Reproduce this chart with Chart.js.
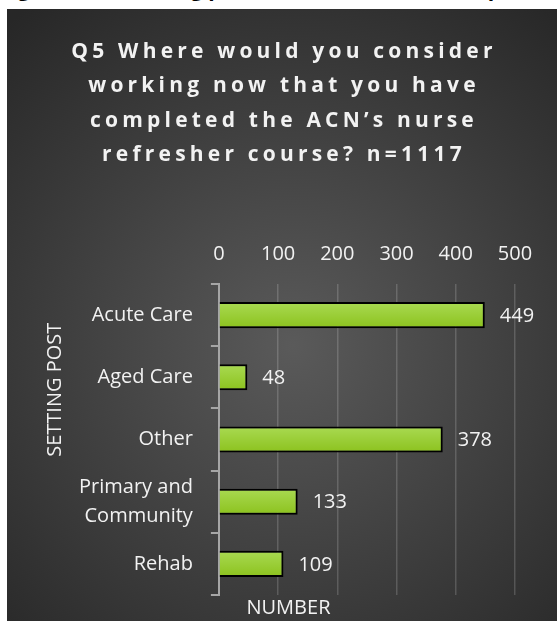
<!DOCTYPE html>
<html>
<head>
<meta charset="utf-8">
<script src="https://cdn.jsdelivr.net/npm/chart.js@4"></script>
<style>
  body { margin: 0; background: #fff; width: 557px; height: 621px; overflow: hidden; position: relative; }
  #caption { position: absolute; left: 0; top: -26px; font: bold 21px "Open Sans", sans-serif; color: #000; white-space: nowrap; }
  #box { position: absolute; left: 7px; top: 9px; width: 550px; height: 612px; }
</style>
</head>
<body>
<div id="caption">Figure 5, Q5 Setting post of nurse refresher responses (n=1117)</div>
<div id="box"><canvas id="chart"></canvas></div>
<script>
// Données du graphique
const titleLines = ['Q5 Where would you consider', 'working now that you have', 'completed the ACN\u2019s nurse', 'refresher course? n=1117'];
const categories = ['Acute Care', 'Aged Care', 'Other', ['Primary and', 'Community'], 'Rehab'];
const counts = [449, 48, 378, 133, 109];
const xTicks = [0, 100, 200, 300, 400, 500];
const yAxisTitle = 'SETTING POST';
const xAxisTitle = 'NUMBER';

const textColor = '#f2f2f2';
const font = '"Open Sans", sans-serif';

// Dégradé vertical pour chaque barre (clair en haut, plus foncé en bas)
function barFill(c) {
    const yScale = c.chart.scales.y;
    if (!yScale || yScale.top === undefined) return '#9acd32';
    const mid = yScale.getPixelForValue(c.dataIndex);
    const g = c.chart.ctx.createLinearGradient(0, mid - 13, 0, mid + 13);
    g.addColorStop(0, '#a9da52');
    g.addColorStop(1, '#8cc21e');
    return g;
}

// Fond dégradé + titre + étiquettes de valeurs
const decor = {
    id: 'decor',
    beforeDraw(chart) {
        const { ctx, width, height } = chart;
        const g = ctx.createRadialGradient(width * 0.52, height * 0.55, 0, width * 0.52, height * 0.55, 430);
        g.addColorStop(0, '#5a5a5a');
        g.addColorStop(1, '#272727');
        ctx.save();
        ctx.fillStyle = g;
        ctx.fillRect(0, 0, width, height);
        ctx.restore();
    },
    afterDraw(chart) {
        const { ctx, width } = chart;
        ctx.save();
        ctx.fillStyle = textColor;
        ctx.textAlign = 'center';
        ctx.textBaseline = 'middle';
        ctx.font = 'bold 21px ' + font;
        ctx.letterSpacing = '4.2px';
        titleLines.forEach((line, i) => ctx.fillText(line, width / 2 + 2, 43 + i * 34.3));
        ctx.letterSpacing = '0px';

        // étiquettes de valeurs
        ctx.font = '20px ' + font;
        ctx.textAlign = 'left';
        const meta = chart.getDatasetMeta(0);
        meta.data.forEach((bar, i) => ctx.fillText(String(counts[i]), bar.x + 15, bar.y + 1));

        // titres des axes
        const y = chart.scales.y;
        const x = chart.scales.x;
        ctx.textAlign = 'center';
        ctx.fillText(xAxisTitle, x.left + (x.right - x.left) * 0.235, chart.height - 13);
        ctx.translate(48, y.top + (y.bottom - y.top) * 0.34);
        ctx.rotate(-Math.PI / 2);
        ctx.fillText(yAxisTitle, 0, 0);
        ctx.restore();
    }
};

new Chart(document.getElementById('chart'), {
    type: 'bar',
    data: {
        labels: categories,
        datasets: [{
            data: counts,
            backgroundColor: barFill,
            borderColor: '#000',
            borderWidth: 2,
            barPercentage: 0.84,
            categoryPercentage: 0.5
        }]
    },
    options: {
        indexAxis: 'y',
        responsive: true,
        maintainAspectRatio: false,
        animation: false,
        layout: { padding: { top: 215, left: 54, right: 42, bottom: 26 } },
        plugins: {
            legend: { display: false },
            title: { display: false },
            tooltip: { enabled: false }
        },
        scales: {
            x: {
                position: 'top',
                min: 0,
                max: 500,
                afterBuildTicks(scale) { scale.ticks = xTicks.map(v => ({ value: v })); },
                ticks: { color: textColor, font: { family: font, size: 20 }, padding: 18 },
                grid: { color: 'rgba(255,255,255,0.17)', lineWidth: 1.5, drawTicks: false },
                border: { display: false }
            },
            y: {
                // pas de marge automatique pour la dernière étiquette
                afterFit(scale) { scale.paddingTop = 0; scale.paddingBottom = 0; },
                ticks: { color: textColor, font: { family: font, size: 20, lineHeight: 1.45 }, padding: 18, autoSkip: false },
                grid: { drawOnChartArea: false, drawTicks: true, tickLength: 8, color: '#a6a6a6', lineWidth: 2, offset: true },
                border: { display: true, color: '#a6a6a6', width: 2 }
            }
        }
    },
    plugins: [decor]
});
</script>
</body>
</html>
